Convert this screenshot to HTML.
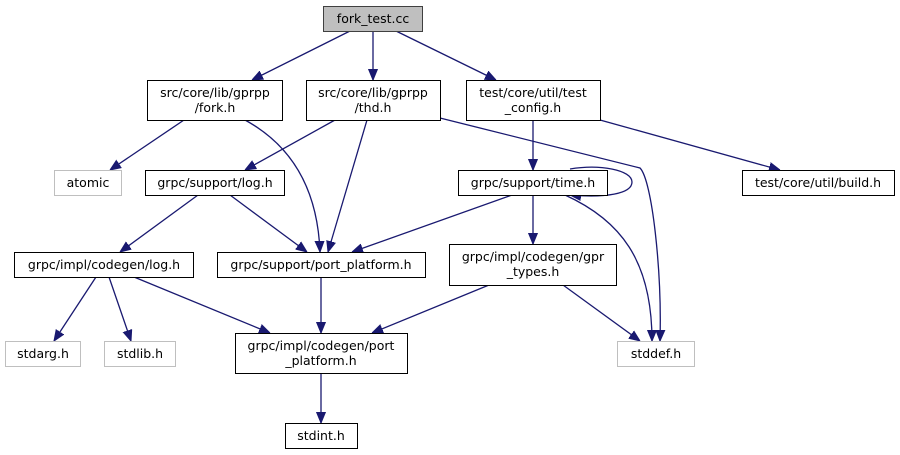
<!DOCTYPE html>
<html><head><style>
html,body{margin:0;padding:0;background:#fff;width:900px;height:455px;overflow:hidden}
svg text{font-family:"DejaVu Sans","Liberation Sans",sans-serif;font-size:12.5px;fill:#000}
</style></head><body>
<svg width="900" height="455" viewBox="0 0 900 455" xmlns="http://www.w3.org/2000/svg">
<defs><marker id="a" viewBox="0 0 11 10" refX="11" refY="5" markerWidth="11" markerHeight="10" markerUnits="userSpaceOnUse" orient="auto"><path d="M0,0.5 L11,5 L0,9.5 z" fill="#191970" stroke="#191970"/></marker></defs>
<g fill="none" stroke="#191970" stroke-width="1.3" marker-end="url(#a)">
<path d="M350,31 L252,80"/>
<path d="M373,31 L373,80"/>
<path d="M396,31 L496,80"/>
<path d="M184,120 L110,170"/>
<path d="M245,120 C300,150 318,200 320,252"/>
<path d="M335,120 L245,170"/>
<path d="M367,120 L328,252"/>
<path d="M440,118 L640,168 C652,180 662,270 660,341"/>
<path d="M533,120 L533,170"/>
<path d="M600,120 L780,170"/>
<path d="M570,169 C600,164 632,170 632,182 C632,194 605,198 570,195"/>
<path d="M512,195 L352,252"/>
<path d="M533,195 L533,244"/>
<path d="M565,195 C620,220 652,260 652,341"/>
<path d="M198,195 L120,252"/>
<path d="M230,195 L307,252"/>
<path d="M96,277 L54,341"/>
<path d="M109,277 L131,341"/>
<path d="M134,277 L270,333"/>
<path d="M321,277 L321,333"/>
<path d="M489,285 L372,333"/>
<path d="M563,285 L640,341"/>
<path d="M321,374 L321,423"/>
</g>
<g stroke-width="1">
<rect x="323.5" y="6.5" width="99" height="25" fill="#bfbfbf" stroke="#404040"/>
<rect x="147.5" y="80.5" width="135" height="40" fill="#fff" stroke="#000"/>
<rect x="306.5" y="80.5" width="134" height="40" fill="#fff" stroke="#000"/>
<rect x="466.5" y="80.5" width="134" height="40" fill="#fff" stroke="#000"/>
<rect x="54.5" y="170.5" width="67" height="25" fill="#fff" stroke="#bfbfbf"/>
<rect x="145.5" y="170.5" width="139" height="25" fill="#fff" stroke="#000"/>
<rect x="458.5" y="170.5" width="149" height="25" fill="#fff" stroke="#000"/>
<rect x="742.5" y="170.5" width="152" height="25" fill="#fff" stroke="#000"/>
<rect x="14.5" y="252.5" width="179" height="25" fill="#fff" stroke="#000"/>
<rect x="217.5" y="252.5" width="208" height="25" fill="#fff" stroke="#000"/>
<rect x="449.5" y="244.5" width="167" height="41" fill="#fff" stroke="#000"/>
<rect x="5.5" y="341.5" width="75" height="25" fill="#fff" stroke="#bfbfbf"/>
<rect x="104.5" y="341.5" width="71" height="25" fill="#fff" stroke="#bfbfbf"/>
<rect x="235.5" y="333.5" width="172" height="40" fill="#fff" stroke="#000"/>
<rect x="617.5" y="341.5" width="77" height="25" fill="#fff" stroke="#bfbfbf"/>
<rect x="285.5" y="423.5" width="72" height="25" fill="#fff" stroke="#000"/>
</g>
<g text-anchor="middle">
<text x="373" y="23">fork_test.cc</text>
<text x="215" y="97">src/core/lib/gprpp</text><text x="215" y="112">/fork.h</text>
<text x="373" y="97">src/core/lib/gprpp</text><text x="373" y="112">/thd.h</text>
<text x="533" y="97">test/core/util/test</text><text x="533" y="112">_config.h</text>
<text x="88" y="187">atomic</text>
<text x="215" y="187">grpc/support/log.h</text>
<text x="533" y="187">grpc/support/time.h</text>
<text x="818" y="187">test/core/util/build.h</text>
<text x="104" y="269">grpc/impl/codegen/log.h</text>
<text x="321" y="269">grpc/support/port_platform.h</text>
<text x="533" y="261">grpc/impl/codegen/gpr</text><text x="533" y="276">_types.h</text>
<text x="43" y="358">stdarg.h</text>
<text x="140" y="358">stdlib.h</text>
<text x="321" y="350">grpc/impl/codegen/port</text><text x="321" y="365">_platform.h</text>
<text x="656" y="358">stddef.h</text>
<text x="321" y="440">stdint.h</text>
</g>
</svg>
</body></html>
